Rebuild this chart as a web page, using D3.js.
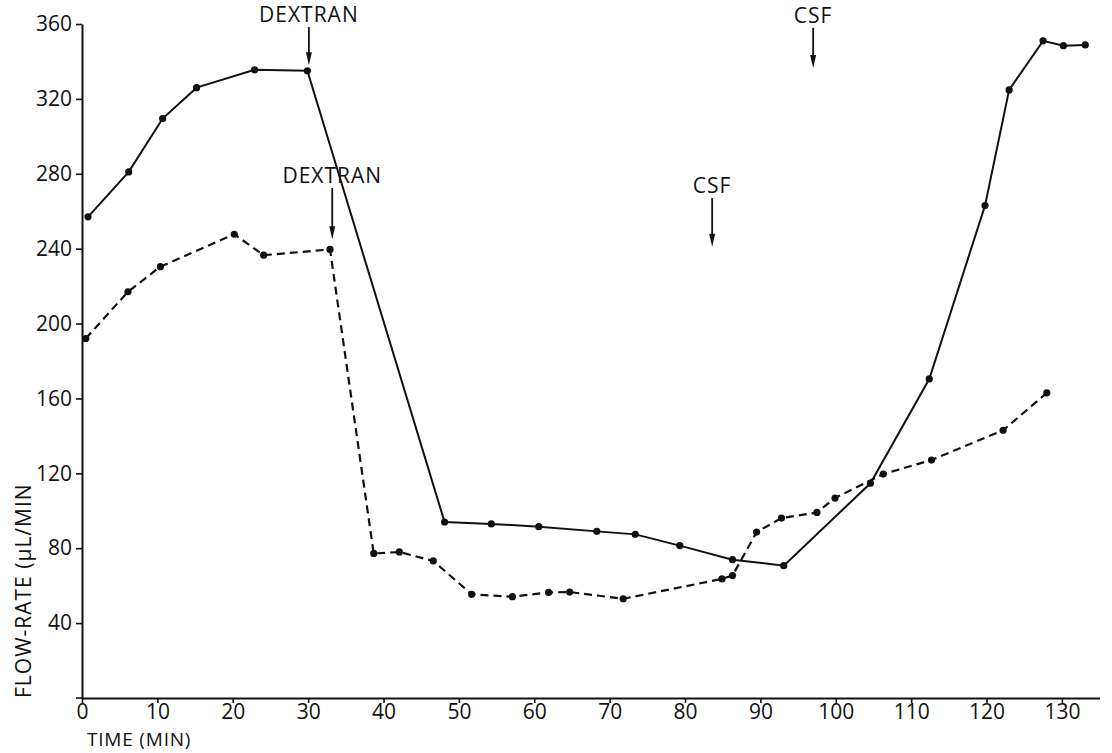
<!DOCTYPE html>
<html>
<head>
<meta charset="utf-8">
<script src="https://cdn.jsdelivr.net/npm/d3@7"></script>
<style>
  html, body { margin: 0; padding: 0; background: #fff; }
  svg { display: block; }
  text { font-family: "Open Sans", "DejaVu Sans", sans-serif; fill: #111; }
</style>
</head>
<body>
<svg id="chart" width="1112" height="753"></svg>
<script>
// Flow-rate (µL/min) against time (min) for two perfusions

// Solid curve
const solidTime = [0.8, 6.2, 10.7, 15.2, 22.9, 29.9, 48.1, 54.3, 60.6, 68.3, 73.4, 79.3, 86.3, 93.1, 104.6, 112.4, 119.8, 123.0, 127.5, 130.2, 133.1];
const solidFlow = [257, 281, 309.5, 326, 335.5, 335, 94, 93, 91.5, 89, 87.4, 81.4, 73.9, 70.7, 114.7, 170.4, 263, 324.8, 351, 348.4, 348.8];

// Dashed curve
const dashedTime = [0.5, 6.1, 10.4, 20.2, 24.1, 32.9, 38.7, 42.1, 46.6, 51.7, 57.1, 61.9, 64.7, 71.8, 84.9, 86.3, 89.5, 92.8, 97.5, 99.9, 106.3, 112.7, 122.2, 128.0];
const dashedFlow = [192, 217, 230.4, 247.7, 236.5, 239.6, 77.2, 78, 73.2, 55.4, 54.1, 56.4, 56.6, 53.0, 63.6, 65.4, 88.6, 96.1, 99.1, 106.8, 119.6, 127.1, 143, 163];

// Axis ticks
const xTicks = [0, 10, 20, 30, 40, 50, 60, 70, 80, 90, 100, 110, 120, 130];
const yTicks = [40, 80, 120, 160, 200, 240, 280, 320, 360];

// Injection markers: time, label, arrow start and arrow tip (flow units)
const eventTime = [30.1, 33.2, 97.0, 83.6];
const eventLabel = ["DEXTRAN", "DEXTRAN", "CSF", "CSF"];
const eventFrom = [358.4, 272.4, 358.0, 267.0];
const eventTo = [338.0, 245.0, 336.5, 241.0];

const svg = d3.select("#chart");
const x = d3.scaleLinear().domain([0, 135]).range([82, 1099.6]);
const y = d3.scaleLinear().domain([0, 360]).range([698, 24]);

const labelFont = "21px";

// Axes
const xAxis = svg.append("g").attr("transform", `translate(0,${y(0)})`)
  .call(d3.axisBottom(x).tickValues(xTicks).tickSize(5).tickPadding(1).tickSizeOuter(0));
const yAxis = svg.append("g").attr("transform", `translate(${x(0)},0)`)
  .call(d3.axisLeft(y).tickValues(yTicks).tickSize(6).tickPadding(4).tickSizeOuter(0));

[xAxis, yAxis].forEach(g => {
  g.select(".domain").attr("stroke", "#111").attr("stroke-width", 2);
  g.selectAll(".tick line").attr("stroke", "#111").attr("stroke-width", 1.6);
  g.selectAll(".tick text").style("font-size", labelFont).attr("fill", "#111")
    .style("font-family", "'Open Sans', sans-serif");
});
// small stub of the y axis below the origin
svg.append("line").attr("x1", x(0) - 6).attr("x2", x(0)).attr("y1", y(0)).attr("y2", y(0))
  .attr("stroke", "#111").attr("stroke-width", 1.6);

// Axis titles
svg.append("text").attr("x", 87).attr("y", 746)
  .style("font-size", "19px").style("letter-spacing", "0.8px").text("TIME (MIN)");
svg.append("text")
  .attr("transform", `translate(31,${y(0)}) rotate(-90)`)
  .attr("text-anchor", "start")
  .style("font-size", "21px").style("letter-spacing", "1px")
  .text("FLOW-RATE (\u03BCL/MIN");

// Curves
const solidPts = solidTime.map((t, i) => [t, solidFlow[i]]);
const dashedPts = dashedTime.map((t, i) => [t, dashedFlow[i]]);
const line = d3.line().x(d => x(d[0])).y(d => y(d[1]));

svg.append("path").datum(solidPts).attr("d", line)
  .attr("fill", "none").attr("stroke", "#111").attr("stroke-width", 2);
svg.append("path").datum(dashedPts).attr("d", line)
  .attr("fill", "none").attr("stroke", "#111").attr("stroke-width", 2.2)
  .attr("stroke-dasharray", "8,5");

svg.append("g").selectAll("circle").data(solidPts.concat(dashedPts)).join("circle")
  .attr("cx", d => x(d[0])).attr("cy", d => y(d[1])).attr("r", 3.6).attr("fill", "#111");

// Injection arrows
const ev = eventTime.map((t, i) => ({ t, label: eventLabel[i], from: eventFrom[i], to: eventTo[i] }));
const eg = svg.append("g").selectAll("g").data(ev).join("g");
eg.append("line")
  .attr("x1", d => x(d.t)).attr("x2", d => x(d.t))
  .attr("y1", d => y(d.from)).attr("y2", d => y(d.to) - 10)
  .attr("stroke", "#111").attr("stroke-width", 1.8);
eg.append("path")
  .attr("d", d => {
    const cx = x(d.t), ty = y(d.to);
    return `M${cx - 3},${ty - 13} L${cx + 3},${ty - 13} L${cx},${ty} Z`;
  })
  .attr("fill", "#111");
eg.append("text")
  .attr("x", d => x(d.t)).attr("y", d => y(d.from) - 5)
  .attr("text-anchor", "middle")
  .style("font-size", "21px").style("letter-spacing", "1px")
  .text(d => d.label);
</script>
</body>
</html>
